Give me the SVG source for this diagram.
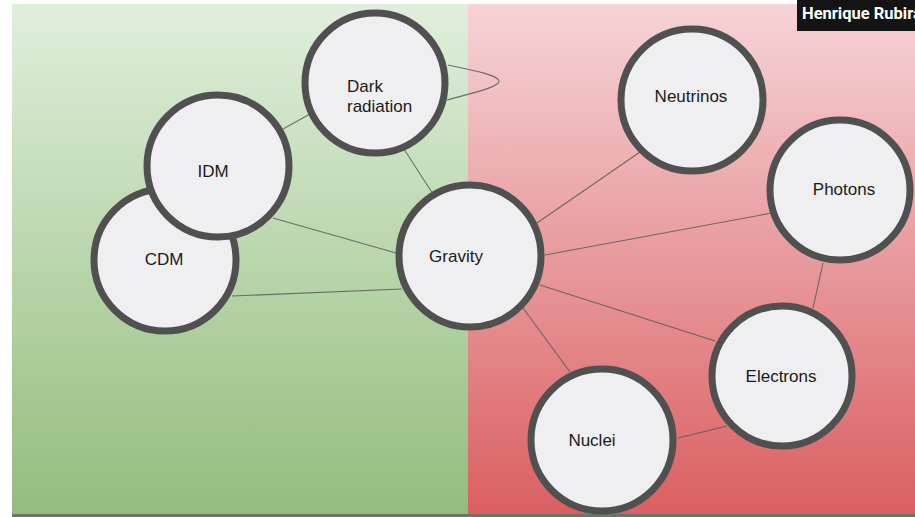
<svg xmlns="http://www.w3.org/2000/svg" width="915" height="517" viewBox="0 0 915 517">
<defs>
<linearGradient id="gGreen" x1="0" y1="0" x2="0" y2="1">
<stop offset="0" stop-color="#e0efdc"/>
<stop offset="1" stop-color="#93bd7c"/>
</linearGradient>
<linearGradient id="gRed" x1="0" y1="0" x2="0" y2="1">
<stop offset="0" stop-color="#f6d4d7"/>
<stop offset="1" stop-color="#da5f61"/>
</linearGradient>
<style>
.node circle{fill:#efeff1;stroke:#505050;stroke-width:7}
.node text{font-family:"Liberation Sans",Arial,sans-serif;font-size:17px;fill:#1a1a1a}
.edges line,.edges path{stroke:#5a5a5a;stroke-width:1.1;fill:none;opacity:0.85}
</style>
</defs>
<rect x="0" y="0" width="915" height="517" fill="#ffffff"/>
<rect x="12" y="4" width="456" height="511" fill="url(#gGreen)"/>
<rect x="468" y="4" width="447" height="511" fill="url(#gRed)"/>
<rect x="12" y="514" width="903" height="3" fill="#6e746c"/>
<g class="edges" id="connectors">
<line x1="283" y1="129" x2="310" y2="114"/>
<line x1="402" y1="146" x2="433" y2="194"/>
<line x1="273" y1="218" x2="403" y2="255"/>
<line x1="232" y1="296" x2="402" y2="289"/>
<line x1="537" y1="223" x2="640" y2="152"/>
<line x1="545" y1="255" x2="772" y2="213"/>
<line x1="540" y1="285" x2="715" y2="341"/>
<line x1="523" y1="308" x2="570" y2="372"/>
<line x1="823" y1="263" x2="813" y2="308"/>
<line x1="678" y1="438" x2="727" y2="426"/>
<path d="M448,65 C472,70 498,75 499,81 C500,87 472,93 447,100"/>
</g>
<g class="node" id="node-cdm"><circle cx="165" cy="260" r="71"/><text x="164" y="265" text-anchor="middle">CDM</text></g>
<g class="node" id="node-idm"><circle cx="218" cy="166" r="71"/><text x="213" y="177" text-anchor="middle">IDM</text></g>
<g class="node" id="node-dark-radiation"><circle cx="375" cy="83" r="70"/><text x="347" y="92">Dark</text><text x="347" y="112">radiation</text></g>
<g class="node" id="node-gravity"><circle cx="470" cy="256" r="71"/><text x="456" y="262" text-anchor="middle">Gravity</text></g>
<g class="node" id="node-neutrinos"><circle cx="692" cy="100" r="71"/><text x="691" y="102" text-anchor="middle">Neutrinos</text></g>
<g class="node" id="node-photons"><circle cx="840" cy="190" r="70"/><text x="844" y="195" text-anchor="middle">Photons</text></g>
<g class="node" id="node-electrons"><circle cx="782" cy="376" r="70"/><text x="781" y="382" text-anchor="middle">Electrons</text></g>
<g class="node" id="node-nuclei"><circle cx="602" cy="440" r="71"/><text x="592" y="446" text-anchor="middle">Nuclei</text></g>
<g id="caption">
<rect x="797" y="0" width="118" height="31" fill="#141414"/>
<text x="802" y="19" font-family="Roboto,'Liberation Sans',sans-serif" font-size="16.5" font-weight="bold" fill="#ffffff">Henrique Rubira</text>
</g>
</svg>
